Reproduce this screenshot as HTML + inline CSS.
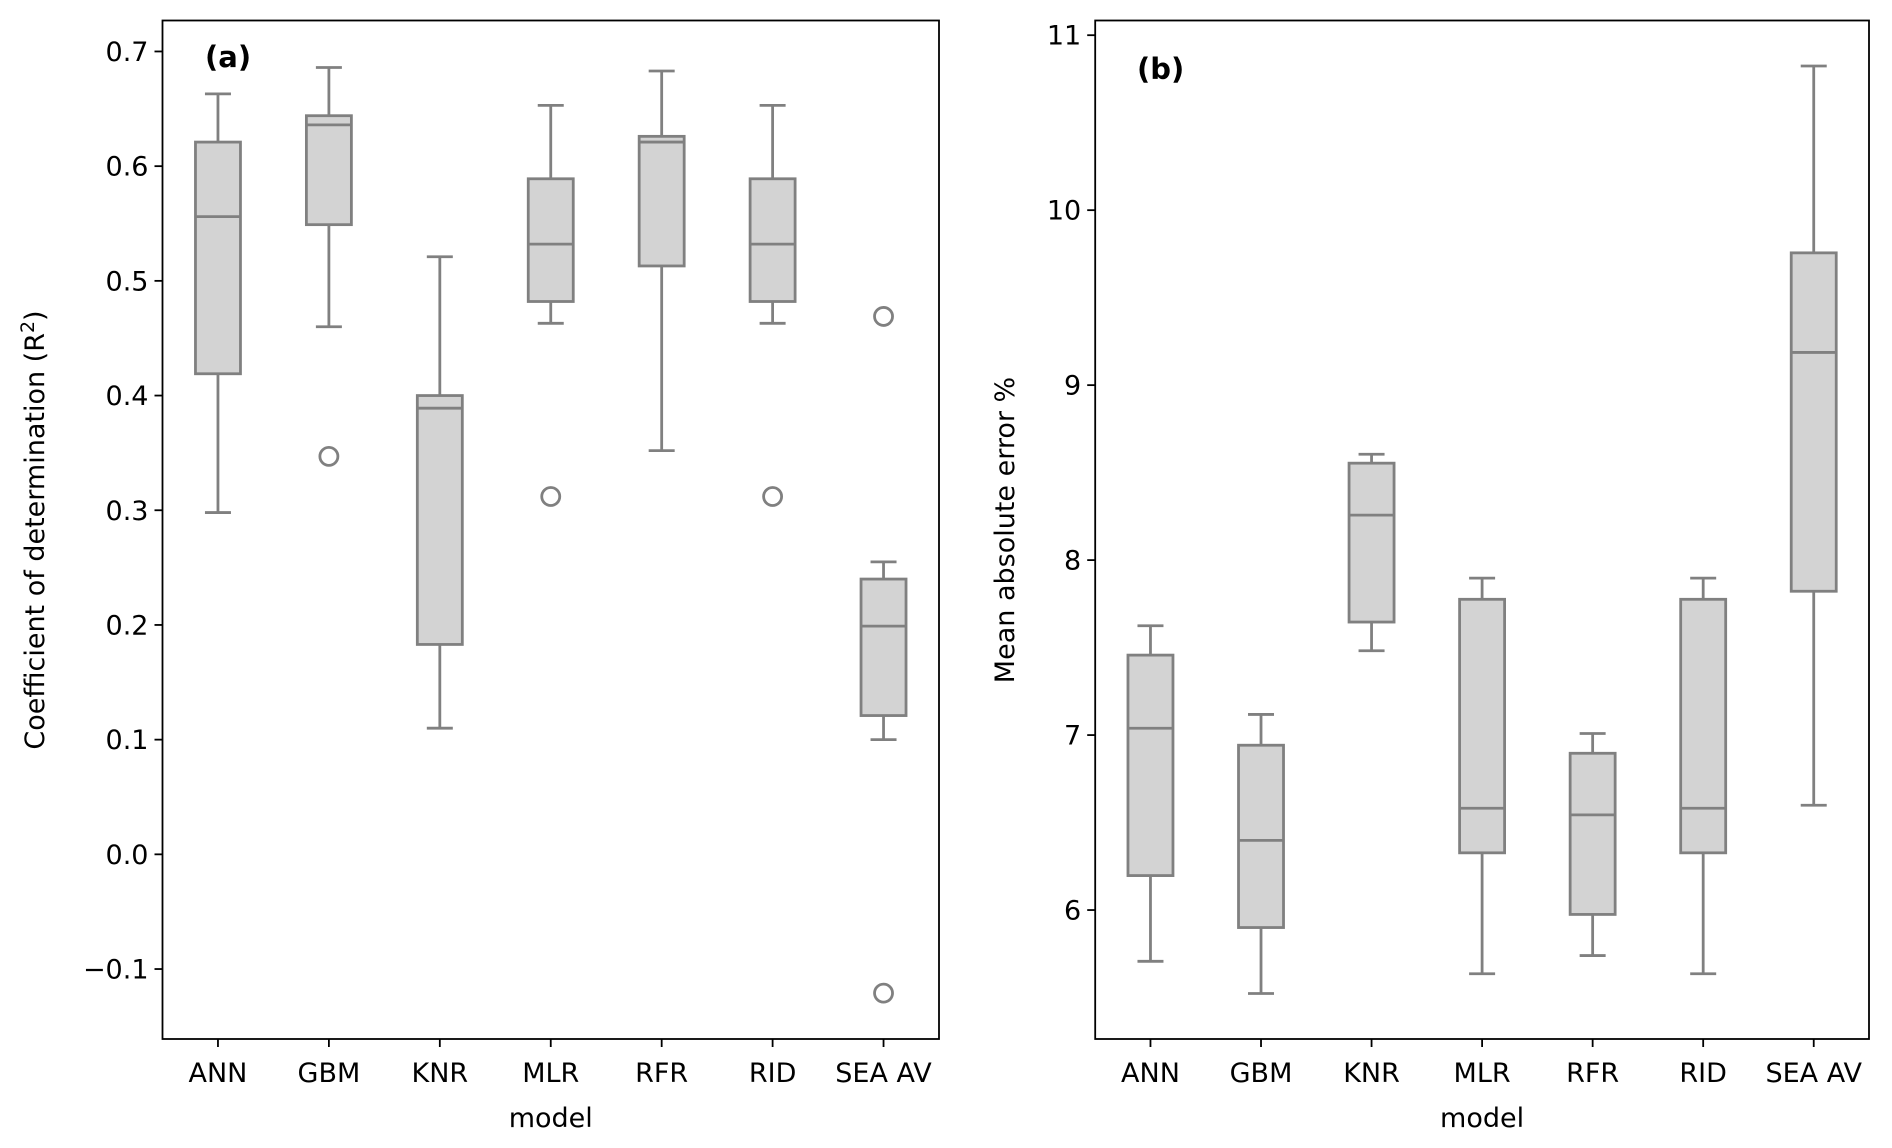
<!DOCTYPE html>
<html><head><meta charset="utf-8">
<style>
html,body{margin:0;padding:0;background:#fff;}
svg{display:block;font-family:"DejaVu Sans","Liberation Sans",sans-serif;}
</style></head>
<body>
<svg id="chart" width="1892" height="1148" viewBox="0 0 1892 1148" xmlns="http://www.w3.org/2000/svg"></svg>
<script>
const categories = ["ANN","GBM","KNR","MLR","RFR","RID","SEA AV"];
// panel a: R2 [low whisker, Q1, median, Q3, high whisker]
const r2Low = [0.298,0.460,0.110,0.463,0.352,0.463,0.100];
const r2Q1 = [0.419,0.549,0.183,0.482,0.513,0.482,0.121];
const r2Med = [0.556,0.636,0.389,0.532,0.621,0.532,0.199];
const r2Q3 = [0.621,0.644,0.400,0.589,0.626,0.589,0.240];
const r2High = [0.663,0.686,0.521,0.653,0.683,0.653,0.255];
const r2Outliers = [[],[0.347],[],[0.312],[],[0.312],[0.469,-0.121]];
const r2Ticks = [-0.1,0.0,0.1,0.2,0.3,0.4,0.5,0.6,0.7];
const r2TickLabels = ["\u22120.1","0.0","0.1","0.2","0.3","0.4","0.5","0.6","0.7"];
// panel b: MAE %
const maeLow = [5.707,5.523,7.482,5.636,5.740,5.636,6.599];
const maeQ1 = [6.197,5.900,7.646,6.327,5.975,6.327,7.822];
const maeMed = [7.039,6.398,8.257,6.582,6.544,6.582,9.187];
const maeQ3 = [7.457,6.942,8.554,7.776,6.896,7.776,9.756];
const maeHigh = [7.625,7.118,8.605,7.897,7.009,7.897,10.824];
const maeOutliers = [[],[],[],[],[],[],[]];
const maeTicks = [6,7,8,9,10,11];
const maeTickLabels = ["6","7","8","9","10","11"];

const NS="http://www.w3.org/2000/svg";
const svg=document.getElementById('chart');
function mk(tag,attrs,parent,text){const e=document.createElementNS(NS,tag);for(const k in attrs)e.setAttribute(k,attrs[k]);if(text!==undefined)e.textContent=text;(parent||svg).appendChild(e);return e;}

function panel(cfg){
  const {left,right,top,bottom,ymin,ymax,name}=cfg;
  const g=mk('g',{});
  
  
  const n=categories.length;
  const xs=i=>left+(i+0.5)*(right-left)/n;
  const ys=v=>bottom-(v-ymin)/(ymax-ymin)*(bottom-top);
  const bw=45, cw=26, col='#808080', sw=2.8;
  for(let i=0;i<n;i++){
    const x=xs(i);
    const bg=mk('g',{},g);
    
    
    mk('line',{x1:x,x2:x,y1:ys(cfg.low[i]),y2:ys(cfg.q1[i]),stroke:col,'stroke-width':sw},bg);
    mk('line',{x1:x,x2:x,y1:ys(cfg.q3[i]),y2:ys(cfg.high[i]),stroke:col,'stroke-width':sw},bg);
    mk('line',{x1:x-cw/2,x2:x+cw/2,y1:ys(cfg.low[i]),y2:ys(cfg.low[i]),stroke:col,'stroke-width':sw},bg);
    mk('line',{x1:x-cw/2,x2:x+cw/2,y1:ys(cfg.high[i]),y2:ys(cfg.high[i]),stroke:col,'stroke-width':sw},bg);
    mk('rect',{x:x-bw/2,y:ys(cfg.q3[i]),width:bw,height:ys(cfg.q1[i])-ys(cfg.q3[i]),fill:'#d3d3d3',stroke:col,'stroke-width':sw},bg);
    mk('line',{x1:x-bw/2,x2:x+bw/2,y1:ys(cfg.med[i]),y2:ys(cfg.med[i]),stroke:col,'stroke-width':sw},bg);
    cfg.out[i].forEach(v=>{
      const c=mk('circle',{cx:x,cy:ys(v),r:9,fill:'none',stroke:col,'stroke-width':sw},bg);
      
      
    });
    mk('line',{x1:x,x2:x,y1:bottom,y2:bottom+8,stroke:'#000','stroke-width':1.8},g);
    const t=mk('text',{x:x,y:bottom+43,'font-size':27,'text-anchor':'middle',fill:'#000'},g,categories[i]);
    
    
  }
  cfg.ticks.forEach((v,k)=>{
    const y=ys(v);
    mk('line',{x1:left-8,x2:left,y1:y,y2:y,stroke:'#000','stroke-width':1.8},g);
    const t=mk('text',{x:left-14,y:y+9.5,'font-size':27,'text-anchor':'end',fill:'#000'},g,cfg.tickLabels[k]);
    
    
  });
  const fr=mk('rect',{x:left,y:top,width:right-left,height:bottom-top,fill:'none',stroke:'#000','stroke-width':1.8},g);
  
  
  const xl=mk('text',{x:(left+right)/2,y:1127,'font-size':27,'text-anchor':'middle',fill:'#000'},g,'model');
  
  
  const yl=mk('text',{x:0,y:0,'font-size':27,'text-anchor':'middle',fill:'#000',transform:`translate(${cfg.ylx},530) rotate(-90)`},g);
  
  
  if(cfg.sup){yl.textContent='Coefficient of determination (R';const s=mk('tspan',{dy:-10,'font-size':19},yl,'2');mk('tspan',{dy:10},yl,')');}
  else yl.textContent=cfg.ylabel;
  const pl=mk('text',{x:cfg.labx,y:cfg.laby,'font-size':29,'font-weight':'bold',fill:'#000'},g,cfg.letter);
  
  
}
panel({name:'r2',left:162.5,right:939,top:20.5,bottom:1039,ymin:-0.161,ymax:0.727,low:r2Low,q1:r2Q1,med:r2Med,q3:r2Q3,high:r2High,out:r2Outliers,ticks:r2Ticks,tickLabels:r2TickLabels,ylx:44,sup:true,labx:205,laby:67,letter:'(a)'});
panel({name:'mae',left:1095.2,right:1869,top:20.5,bottom:1039,ymin:5.263,ymax:11.084,low:maeLow,q1:maeQ1,med:maeMed,q3:maeQ3,high:maeHigh,out:maeOutliers,ticks:maeTicks,tickLabels:maeTickLabels,ylx:1014,ylabel:'Mean absolute error %',labx:1137,laby:79,letter:'(b)'});
</script>
</body></html>
